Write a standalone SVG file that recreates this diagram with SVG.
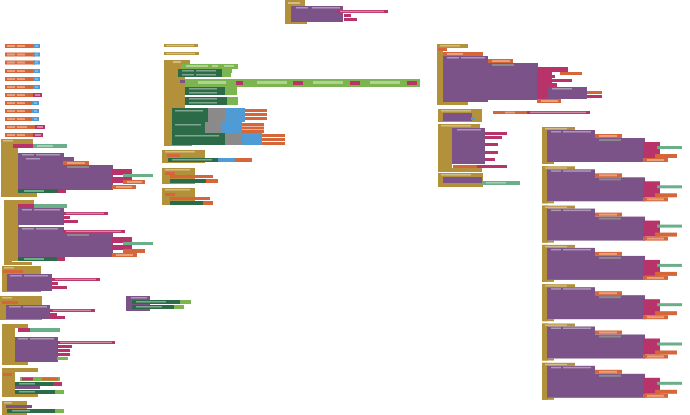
<svg xmlns="http://www.w3.org/2000/svg" width="690" height="415" viewBox="0 0 690 415">
<style>
.g{fill:#b3913a}.p{fill:#7b5388}.m{fill:#b8336a}.o{fill:#d5663a}.lo{fill:#e9a07a}.dg{fill:#2c6b48}.lg{fill:#7cb550}.mt{fill:#6aae8a}.b{fill:#4e9bd6}.gr{fill:#8a8a8a}.f{fill:#ffffff;opacity:.4}.lb{fill:#7fb6e3}
</style>
<rect width="690" height="415" fill="#ffffff"/>
<g id="top">
<rect class="g" x="285" y="0" width="20" height="6"/><rect class="g" x="285" y="0" width="7" height="24"/><rect class="g" x="285" y="20" width="22" height="4"/>
<rect class="f" x="288" y="2" width="12" height="2"/>
<rect class="p" x="291" y="6" width="52" height="16"/><rect class="p" x="291" y="6" width="52" height="3"/>
<rect class="f" x="296" y="7" width="12" height="1.5"/><rect class="f" x="312" y="7" width="28" height="1.5"/>
<rect class="m" x="337" y="10" width="51" height="3"/><rect class="f" x="340" y="10.8" width="44" height="1.4"/>
<rect class="m" x="344" y="14" width="7" height="3"/><rect class="m" x="344" y="18" width="13" height="3"/>
</g>
<g id="vars">
<g><rect class="o" x="5" y="44" width="30" height="4"/><rect class="lo" x="7" y="45" width="8" height="2"/><rect class="lo" x="17" y="45" width="8" height="2"/><rect class="b" x="33" y="44" width="7" height="4"/><rect class="lb" x="35" y="45" width="3" height="2"/></g>
<g><rect class="o" x="5" y="52.5" width="30" height="4"/><rect class="lo" x="7" y="53.5" width="8" height="2"/><rect class="lo" x="17" y="53.5" width="8" height="2"/><rect class="b" x="33" y="52.5" width="7" height="4"/><rect class="lb" x="35" y="53.5" width="3" height="2"/></g>
<g><rect class="o" x="5" y="60.5" width="30" height="4"/><rect class="lo" x="7" y="61.5" width="8" height="2"/><rect class="lo" x="17" y="61.5" width="8" height="2"/><rect class="b" x="33" y="60.5" width="7" height="4"/><rect class="lb" x="35" y="61.5" width="3" height="2"/></g>
<g><rect class="o" x="5" y="69" width="30" height="4"/><rect class="lo" x="7" y="70" width="8" height="2"/><rect class="lo" x="17" y="70" width="8" height="2"/><rect class="b" x="33" y="69" width="7" height="4"/><rect class="lb" x="35" y="70" width="3" height="2"/></g>
<g><rect class="o" x="5" y="77" width="30" height="4"/><rect class="lo" x="7" y="78" width="8" height="2"/><rect class="lo" x="17" y="78" width="8" height="2"/><rect class="b" x="33" y="77" width="7" height="4"/><rect class="lb" x="35" y="78" width="3" height="2"/></g>
<g><rect class="o" x="5" y="85" width="30" height="4"/><rect class="lo" x="7" y="86" width="8" height="2"/><rect class="lo" x="17" y="86" width="8" height="2"/><rect class="b" x="33" y="85" width="7" height="4"/><rect class="lb" x="35" y="86" width="3" height="2"/></g>
<g><rect class="o" x="5" y="93" width="30" height="4"/><rect class="lo" x="7" y="94" width="8" height="2"/><rect class="lo" x="17" y="94" width="8" height="2"/><rect class="m" x="33" y="93" width="9" height="4"/><rect class="f" x="35" y="94" width="5" height="2"/></g>
<g><rect class="o" x="5" y="101" width="28" height="4"/><rect class="lo" x="7" y="102" width="8" height="2"/><rect class="lo" x="17" y="102" width="8" height="2"/><rect class="b" x="32" y="101" width="7" height="4"/><rect class="lb" x="34" y="102" width="3" height="2"/></g>
<g><rect class="o" x="5" y="109" width="28" height="4"/><rect class="lo" x="7" y="110" width="8" height="2"/><rect class="lo" x="17" y="110" width="8" height="2"/><rect class="b" x="32" y="109" width="7" height="4"/><rect class="lb" x="34" y="110" width="3" height="2"/></g>
<g><rect class="o" x="5" y="117" width="28" height="4"/><rect class="lo" x="7" y="118" width="8" height="2"/><rect class="lo" x="17" y="118" width="8" height="2"/><rect class="b" x="32" y="117" width="7" height="4"/><rect class="lb" x="34" y="118" width="3" height="2"/></g>
<g><rect class="o" x="5" y="125" width="32" height="4"/><rect class="lo" x="7" y="126" width="8" height="2"/><rect class="lo" x="17" y="126" width="10" height="2"/><rect class="m" x="35" y="125" width="10" height="4"/><rect class="f" x="37" y="126" width="6" height="2"/></g>
<g><rect class="o" x="5" y="133" width="30" height="4"/><rect class="lo" x="7" y="134" width="8" height="2"/><rect class="lo" x="17" y="134" width="8" height="2"/><rect class="m" x="33" y="133" width="10" height="4"/><rect class="f" x="35" y="134" width="6" height="2"/></g>
</g>
<g id="stackA">
<rect class="g" x="1" y="139" width="32" height="5"/><rect class="g" x="1" y="139" width="8" height="58"/><rect class="g" x="8" y="142" width="10" height="52"/><rect class="g" x="1" y="193" width="36" height="4"/>
<rect class="f" x="3" y="140" width="10" height="1.5"/>
<rect class="m" x="13" y="144" width="20" height="4"/><rect class="mt" x="33" y="144" width="34" height="4"/><rect class="f" x="37" y="145" width="16" height="2"/>
<rect class="p" x="18" y="153" width="46" height="39"/><rect class="p" x="18" y="157" width="56" height="4"/><rect class="f" x="22" y="154" width="12" height="1.5"/><rect class="f" x="36" y="154" width="24" height="1.5"/><rect class="f" x="26" y="158" width="14" height="1.5"/>
<rect class="o" x="63" y="161" width="26" height="4"/><rect class="lo" x="67" y="162" width="18" height="2"/>
<rect class="p" x="63" y="165" width="50" height="25"/><rect class="gr" x="67" y="166" width="22" height="2"/>
<rect class="m" x="112" y="169" width="20" height="6"/><rect class="mt" x="123" y="174" width="30" height="3"/>
<rect class="m" x="112" y="177" width="20" height="6"/><rect class="o" x="123" y="180" width="22" height="4"/><rect class="lo" x="127" y="181" width="15" height="2"/>
<rect class="o" x="112" y="185" width="24" height="4"/><rect class="lo" x="116" y="186" width="16" height="2"/>
<rect class="dg" x="18" y="189" width="48" height="4"/><rect class="mt" x="24" y="190" width="20" height="2"/><rect class="m" x="58" y="189" width="8" height="4"/>
</g>
<g id="stackB">
<rect class="g" x="4" y="200" width="30" height="4"/><rect class="g" x="4" y="200" width="8" height="65"/><rect class="g" x="11" y="203" width="8" height="58"/><rect class="g" x="8" y="262" width="24" height="3"/>
<rect class="m" x="18" y="204" width="16" height="4"/><rect class="mt" x="34" y="204" width="33" height="4"/>
<rect class="p" x="18" y="208" width="46" height="17"/><rect class="f" x="22" y="209" width="10" height="1.5"/><rect class="f" x="34" y="209" width="26" height="1.5"/>
<rect class="m" x="63" y="212" width="45" height="3"/><rect class="f" x="66" y="212.7" width="38" height="1.4"/><rect class="m" x="63" y="216" width="7" height="3"/><rect class="m" x="63" y="220" width="15" height="3"/>
<rect class="p" x="18" y="227" width="46" height="30"/><rect class="f" x="22" y="228" width="12" height="1.5"/><rect class="f" x="36" y="228" width="22" height="1.5"/>
<rect class="m" x="63" y="230" width="62" height="3"/><rect class="f" x="66" y="230.7" width="55" height="1.4"/>
<rect class="p" x="63" y="233" width="50" height="24"/><rect class="gr" x="67" y="234" width="22" height="2"/>
<rect class="m" x="112" y="237" width="20" height="6"/><rect class="mt" x="123" y="242" width="30" height="3"/>
<rect class="m" x="112" y="245" width="20" height="5"/><rect class="o" x="123" y="249" width="22" height="4"/>
<rect class="o" x="112" y="253" width="25" height="4"/><rect class="lo" x="116" y="254" width="17" height="2"/>
<rect class="dg" x="18" y="257" width="47" height="4"/><rect class="mt" x="24" y="258" width="20" height="2"/><rect class="m" x="57" y="257" width="8" height="4"/>
</g>
<g id="stackC">
<rect class="g" x="2" y="266" width="39" height="26"/><rect class="f" x="4" y="267" width="10" height="1.5"/><rect class="o" x="3" y="270" width="20" height="3"/>
<rect class="p" x="7" y="274" width="45" height="17"/><rect class="f" x="10" y="275" width="12" height="1.5"/><rect class="f" x="24" y="275" width="24" height="1.5"/>
<rect class="m" x="52" y="278" width="48" height="3"/><rect class="f" x="55" y="278.7" width="41" height="1.4"/><rect class="m" x="52" y="282" width="6" height="3"/><rect class="m" x="52" y="286" width="15" height="3"/>
</g>
<g id="stackD">
<rect class="g" x="0" y="296" width="42" height="24"/><rect class="f" x="2" y="297" width="10" height="1.5"/><rect class="o" x="2" y="301" width="16" height="3"/>
<rect class="p" x="6" y="305" width="44" height="14"/><rect class="f" x="9" y="306" width="12" height="1.5"/><rect class="f" x="23" y="306" width="24" height="1.5"/>
<rect class="m" x="50" y="309" width="45" height="3"/><rect class="f" x="53" y="309.7" width="38" height="1.4"/><rect class="m" x="50" y="313" width="7" height="3"/><rect class="m" x="50" y="316" width="15" height="3"/>
</g>
<g id="stackE">
<rect class="g" x="2" y="324" width="26" height="4"/><rect class="g" x="2" y="324" width="13" height="41"/><rect class="g" x="2" y="362" width="26" height="3"/>
<rect class="m" x="18" y="328" width="12" height="4"/><rect class="mt" x="30" y="328" width="30" height="4"/>
<rect class="p" x="15" y="337" width="43" height="25"/><rect class="f" x="18" y="338" width="10" height="1.5"/><rect class="f" x="30" y="338" width="24" height="1.5"/>
<rect class="m" x="57" y="341" width="58" height="3"/><rect class="f" x="60" y="341.7" width="52" height="1.4"/><rect class="m" x="57" y="345" width="15" height="3"/><rect class="m" x="57" y="349" width="13" height="3"/><rect class="m" x="57" y="353" width="13" height="3"/><rect class="lg" x="57" y="357" width="11" height="3"/>
</g>
<g id="stackF">
<rect class="g" x="2" y="368" width="36" height="4"/><rect class="g" x="2" y="368" width="13" height="29"/><rect class="g" x="2" y="394" width="36" height="3"/>
<rect class="o" x="3" y="373" width="9" height="3"/>
<rect class="lg" x="20" y="377" width="40" height="4"/><rect class="m" x="22" y="377.5" width="11" height="3"/><rect class="o" x="42" y="377.5" width="16" height="3"/>
<rect class="dg" x="15" y="382" width="40" height="4"/><rect class="f" x="19" y="383" width="16" height="1.5"/><rect class="m" x="53" y="382" width="9" height="4"/>
<rect class="p" x="15" y="386" width="25" height="3"/>
<rect class="dg" x="15" y="390" width="42" height="4"/><rect class="f" x="19" y="391" width="16" height="1.5"/><rect class="lg" x="55" y="390" width="9" height="4"/>
</g>
<g id="stackG">
<rect class="g" x="2" y="401" width="25" height="14"/><rect class="f" x="4" y="402" width="8" height="1.5"/>
<rect class="p" x="6" y="405" width="26" height="3"/>
<rect class="dg" x="7" y="409" width="50" height="4"/><rect class="f" x="12" y="410" width="18" height="1.5"/><rect class="lg" x="55" y="409" width="9" height="4"/>
</g>
<g id="mid1"><rect class="g" x="164" y="44" width="34" height="3"/><rect class="f" x="166" y="44.8" width="28" height="1.4"/></g>
<g id="mid2"><rect class="g" x="164" y="52" width="35" height="3"/><rect class="f" x="166" y="52.8" width="29" height="1.4"/></g>
<g id="midBig">
<rect class="g" x="164" y="60" width="26" height="4"/><rect class="g" x="164" y="60" width="8" height="86"/><rect class="g" x="169" y="63" width="16" height="45"/><rect class="g" x="164" y="143" width="28" height="3"/>
<rect class="f" x="173" y="61" width="8" height="2"/>
<rect class="lg" x="181" y="64" width="57" height="5"/><rect class="f" x="186" y="65" width="22" height="2"/><rect class="f" x="212" y="65" width="6" height="2"/><rect class="f" x="224" y="65" width="10" height="2"/>
<rect class="dg" x="178" y="69" width="44" height="4"/><rect class="f" x="182" y="70" width="12" height="1.5"/><rect class="f" x="196" y="70" width="20" height="1.5"/><rect class="lg" x="222" y="69" width="10" height="4"/>
<rect class="dg" x="178" y="73" width="44" height="4"/><rect class="f" x="182" y="74" width="12" height="1.5"/><rect class="f" x="196" y="74" width="20" height="1.5"/><rect class="lg" x="222" y="73" width="9" height="4"/>
<rect class="lg" x="185" y="79" width="235" height="8"/><rect class="p" x="180" y="80" width="5" height="3"/>
<rect class="f" x="198" y="81" width="28" height="3"/><rect class="m" x="236" y="81" width="7" height="4"/><rect class="f" x="257" y="81" width="30" height="3"/><rect class="m" x="293" y="81" width="10" height="4"/>
<rect class="f" x="313" y="81" width="30" height="3"/><rect class="m" x="350" y="81" width="10" height="4"/><rect class="f" x="370" y="81" width="30" height="3"/><rect class="m" x="407" y="81" width="10" height="4"/>
<rect class="dg" x="185" y="87" width="40" height="4"/><rect class="f" x="189" y="88" width="28" height="1.5"/><rect class="lg" x="225" y="87" width="12" height="4"/>
<rect class="dg" x="185" y="91" width="40" height="4"/><rect class="f" x="189" y="92" width="28" height="1.5"/><rect class="lg" x="225" y="91" width="12" height="4"/>
<rect class="dg" x="185" y="97" width="42" height="4"/><rect class="f" x="189" y="98" width="28" height="1.5"/><rect class="lg" x="227" y="97" width="11" height="4"/>
<rect class="dg" x="185" y="101" width="42" height="4"/><rect class="f" x="189" y="102" width="28" height="1.5"/><rect class="lg" x="227" y="101" width="11" height="4"/>
<rect class="dg" x="172" y="108" width="36" height="14"/><rect class="f" x="175" y="110" width="28" height="1.5"/><rect class="gr" x="208" y="108" width="17" height="14"/><rect class="b" x="225" y="108" width="20" height="14"/>
<rect class="o" x="245" y="109" width="22" height="3"/><rect class="o" x="245" y="113" width="22" height="3"/><rect class="o" x="245" y="117" width="22" height="3"/>
<rect class="dg" x="172" y="122" width="33" height="11"/><rect class="f" x="175" y="124" width="26" height="1.5"/><rect class="gr" x="205" y="122" width="17" height="11"/><rect class="b" x="222" y="122" width="20" height="11"/>
<rect class="o" x="242" y="123" width="22" height="3"/><rect class="o" x="242" y="126.5" width="22" height="3"/><rect class="o" x="242" y="130" width="22" height="3"/>
<rect class="dg" x="172" y="133" width="53" height="12"/><rect class="f" x="175" y="135" width="44" height="1.5"/><rect class="gr" x="225" y="133" width="17" height="12"/><rect class="b" x="242" y="133" width="20" height="12"/>
<rect class="o" x="262" y="134" width="23" height="3"/><rect class="o" x="262" y="138" width="23" height="3"/><rect class="o" x="262" y="142" width="23" height="3"/>
</g>
<g id="mid3">
<rect class="g" x="162" y="150" width="43" height="13"/><rect class="f" x="165" y="151" width="30" height="1.5"/><rect class="o" x="167" y="154" width="13" height="3"/>
<rect class="dg" x="168" y="158" width="50" height="4"/><rect class="f" x="172" y="159" width="40" height="1.5"/><rect class="b" x="218" y="158" width="17" height="4"/><rect class="o" x="235" y="158" width="17" height="4"/>
</g>
<g id="mid4">
<rect class="g" x="162" y="168" width="33" height="16"/><rect class="f" x="165" y="169" width="25" height="1.5"/><rect class="o" x="165" y="172" width="10" height="3"/>
<rect class="o" x="170" y="175" width="43" height="3"/><rect class="dg" x="170" y="179" width="36" height="4"/><rect class="o" x="206" y="179" width="12" height="4"/>
</g>
<g id="mid5">
<rect class="g" x="162" y="188" width="33" height="17"/><rect class="f" x="165" y="189" width="25" height="1.5"/><rect class="o" x="165" y="193" width="10" height="3"/>
<rect class="o" x="170" y="197" width="40" height="3"/><rect class="dg" x="170" y="201" width="33" height="4"/><rect class="o" x="203" y="201" width="10" height="4"/>
</g>
<g id="proc">
<rect class="p" x="126" y="296" width="24" height="15"/><rect class="f" x="131" y="297" width="16" height="1.5"/>
<rect class="dg" x="132" y="300" width="48" height="4"/><rect class="f" x="136" y="301" width="30" height="1.5"/><rect class="lg" x="180" y="300" width="11" height="4"/>
<rect class="dg" x="132" y="305" width="42" height="4"/><rect class="f" x="136" y="306" width="26" height="1.5"/><rect class="lg" x="174" y="305" width="10" height="4"/>
</g>
<g id="right1">
<rect class="g" x="437" y="44" width="31" height="4"/><rect class="g" x="437" y="44" width="6" height="61"/><rect class="g" x="437" y="102" width="31" height="3"/><rect class="f" x="440" y="45" width="20" height="1.5"/>
<rect class="o" x="438" y="48" width="9" height="3"/>
<rect class="o" x="443" y="52" width="40" height="4"/><rect class="lo" x="447" y="53" width="16" height="2"/>
<rect class="p" x="443" y="56" width="45" height="46"/><rect class="f" x="447" y="57" width="12" height="1.5"/><rect class="f" x="461" y="57" width="24" height="1.5"/>
<rect class="o" x="488" y="59" width="25" height="4"/><rect class="lo" x="492" y="60" width="18" height="2"/>
<rect class="p" x="488" y="63" width="50" height="37"/><rect class="gr" x="492" y="64" width="22" height="2"/>
<rect class="m" x="537" y="67" width="15" height="36"/><rect class="m" x="550" y="67" width="18" height="5"/><rect class="o" x="560" y="72" width="22" height="3"/>
<rect class="m" x="550" y="75" width="5" height="3"/><rect class="m" x="550" y="79" width="22" height="3"/><rect class="m" x="550" y="83" width="7" height="4"/>
<rect class="p" x="548" y="87" width="39" height="12"/><rect class="f" x="552" y="88" width="20" height="1.5"/>
<rect class="o" x="587" y="91" width="15" height="3"/><rect class="m" x="587" y="95" width="15" height="3"/>
<rect class="o" x="537" y="99" width="24" height="4"/><rect class="lo" x="541" y="100" width="17" height="2"/>
</g>
<g id="right2">
<rect class="g" x="438" y="109" width="44" height="13"/><rect class="f" x="441" y="110" width="30" height="1.5"/>
<rect class="p" x="443" y="113" width="29" height="8"/><rect class="b" x="471" y="117" width="4" height="3"/>
</g>
<g id="right2b"><rect class="o" x="493" y="111" width="34" height="3"/><rect class="lo" x="505" y="111.6" width="10" height="1.8"/><rect class="m" x="527" y="111" width="63" height="3"/><rect class="f" x="530" y="111.7" width="56" height="1.4"/></g>
<g id="right3">
<rect class="g" x="438" y="124" width="42" height="4"/><rect class="g" x="438" y="124" width="14" height="48"/><rect class="g" x="438" y="168" width="44" height="4"/><rect class="f" x="441" y="125" width="30" height="1.5"/>
<rect class="p" x="452" y="128" width="33" height="36"/><rect class="f" x="457" y="129" width="24" height="1.5"/>
<rect class="m" x="485" y="132" width="22" height="3"/><rect class="m" x="485" y="136" width="17" height="3"/><rect class="m" x="485" y="143" width="13" height="3"/><rect class="m" x="485" y="151" width="13" height="3"/><rect class="m" x="485" y="158" width="10" height="3"/>
<rect class="o" x="453" y="165" width="24" height="3"/><rect class="m" x="477" y="165" width="30" height="3"/>
</g>
<g id="right4">
<rect class="g" x="438" y="173" width="45" height="14"/><rect class="f" x="441" y="174" width="30" height="1.5"/>
<rect class="p" x="443" y="177" width="39" height="6"/><rect class="mt" x="482" y="181" width="38" height="4"/><rect class="f" x="486" y="182" width="20" height="1.5"/>
</g>
<g id="rc1" transform="translate(0,0)">
<rect class="g" x="542" y="127" width="33" height="3"/><rect class="g" x="542" y="127" width="6" height="37"/><rect class="g" x="542" y="162" width="12" height="2"/><rect class="f" x="545" y="128" width="22" height="1.4"/>
<rect class="p" x="547" y="130" width="48" height="32"/><rect class="f" x="551" y="131" width="10" height="1.5"/><rect class="f" x="563" y="131" width="28" height="1.5"/>
<rect class="o" x="595" y="134" width="27" height="4"/><rect class="lo" x="599" y="135" width="18" height="2"/>
<rect class="p" x="595" y="138" width="50" height="24"/><rect class="gr" x="599" y="139" width="22" height="2"/>
<rect class="m" x="643" y="142" width="17" height="16"/><rect class="mt" x="657" y="146" width="25" height="3"/><rect class="o" x="655" y="154" width="22" height="4"/>
<rect class="o" x="643" y="158" width="25" height="4"/><rect class="lo" x="647" y="159" width="17" height="2"/>
</g>
<g id="rc2" transform="translate(0,39.3)">
<rect class="g" x="542" y="127" width="33" height="3"/><rect class="g" x="542" y="127" width="6" height="37"/><rect class="g" x="542" y="162" width="12" height="2"/><rect class="f" x="545" y="128" width="22" height="1.4"/>
<rect class="p" x="547" y="130" width="48" height="32"/><rect class="f" x="551" y="131" width="10" height="1.5"/><rect class="f" x="563" y="131" width="28" height="1.5"/>
<rect class="o" x="595" y="134" width="27" height="4"/><rect class="lo" x="599" y="135" width="18" height="2"/>
<rect class="p" x="595" y="138" width="50" height="24"/><rect class="gr" x="599" y="139" width="22" height="2"/>
<rect class="m" x="643" y="142" width="17" height="16"/><rect class="mt" x="657" y="146" width="25" height="3"/><rect class="o" x="655" y="154" width="22" height="4"/>
<rect class="o" x="643" y="158" width="25" height="4"/><rect class="lo" x="647" y="159" width="17" height="2"/>
</g>
<g id="rc3" transform="translate(0,78.6)">
<rect class="g" x="542" y="127" width="33" height="3"/><rect class="g" x="542" y="127" width="6" height="37"/><rect class="g" x="542" y="162" width="12" height="2"/><rect class="f" x="545" y="128" width="22" height="1.4"/>
<rect class="p" x="547" y="130" width="48" height="32"/><rect class="f" x="551" y="131" width="10" height="1.5"/><rect class="f" x="563" y="131" width="28" height="1.5"/>
<rect class="o" x="595" y="134" width="27" height="4"/><rect class="lo" x="599" y="135" width="18" height="2"/>
<rect class="p" x="595" y="138" width="50" height="24"/><rect class="gr" x="599" y="139" width="22" height="2"/>
<rect class="m" x="643" y="142" width="17" height="16"/><rect class="mt" x="657" y="146" width="25" height="3"/><rect class="o" x="655" y="154" width="22" height="4"/>
<rect class="o" x="643" y="158" width="25" height="4"/><rect class="lo" x="647" y="159" width="17" height="2"/>
</g>
<g id="rc4" transform="translate(0,117.9)">
<rect class="g" x="542" y="127" width="33" height="3"/><rect class="g" x="542" y="127" width="6" height="37"/><rect class="g" x="542" y="162" width="12" height="2"/><rect class="f" x="545" y="128" width="22" height="1.4"/>
<rect class="p" x="547" y="130" width="48" height="32"/><rect class="f" x="551" y="131" width="10" height="1.5"/><rect class="f" x="563" y="131" width="28" height="1.5"/>
<rect class="o" x="595" y="134" width="27" height="4"/><rect class="lo" x="599" y="135" width="18" height="2"/>
<rect class="p" x="595" y="138" width="50" height="24"/><rect class="gr" x="599" y="139" width="22" height="2"/>
<rect class="m" x="643" y="142" width="17" height="16"/><rect class="mt" x="657" y="146" width="25" height="3"/><rect class="o" x="655" y="154" width="22" height="4"/>
<rect class="o" x="643" y="158" width="25" height="4"/><rect class="lo" x="647" y="159" width="17" height="2"/>
</g>
<g id="rc5" transform="translate(0,157.2)">
<rect class="g" x="542" y="127" width="33" height="3"/><rect class="g" x="542" y="127" width="6" height="37"/><rect class="g" x="542" y="162" width="12" height="2"/><rect class="f" x="545" y="128" width="22" height="1.4"/>
<rect class="p" x="547" y="130" width="48" height="32"/><rect class="f" x="551" y="131" width="10" height="1.5"/><rect class="f" x="563" y="131" width="28" height="1.5"/>
<rect class="o" x="595" y="134" width="27" height="4"/><rect class="lo" x="599" y="135" width="18" height="2"/>
<rect class="p" x="595" y="138" width="50" height="24"/><rect class="gr" x="599" y="139" width="22" height="2"/>
<rect class="m" x="643" y="142" width="17" height="16"/><rect class="mt" x="657" y="146" width="25" height="3"/><rect class="o" x="655" y="154" width="22" height="4"/>
<rect class="o" x="643" y="158" width="25" height="4"/><rect class="lo" x="647" y="159" width="17" height="2"/>
</g>
<g id="rc6" transform="translate(0,196.5)">
<rect class="g" x="542" y="127" width="33" height="3"/><rect class="g" x="542" y="127" width="6" height="37"/><rect class="g" x="542" y="162" width="12" height="2"/><rect class="f" x="545" y="128" width="22" height="1.4"/>
<rect class="p" x="547" y="130" width="48" height="32"/><rect class="f" x="551" y="131" width="10" height="1.5"/><rect class="f" x="563" y="131" width="28" height="1.5"/>
<rect class="o" x="595" y="134" width="27" height="4"/><rect class="lo" x="599" y="135" width="18" height="2"/>
<rect class="p" x="595" y="138" width="50" height="24"/><rect class="gr" x="599" y="139" width="22" height="2"/>
<rect class="m" x="643" y="142" width="17" height="16"/><rect class="mt" x="657" y="146" width="25" height="3"/><rect class="o" x="655" y="154" width="22" height="4"/>
<rect class="o" x="643" y="158" width="25" height="4"/><rect class="lo" x="647" y="159" width="17" height="2"/>
</g>
<g id="rc7" transform="translate(0,235.8)">
<rect class="g" x="542" y="127" width="33" height="3"/><rect class="g" x="542" y="127" width="6" height="37"/><rect class="g" x="542" y="162" width="12" height="2"/><rect class="f" x="545" y="128" width="22" height="1.4"/>
<rect class="p" x="547" y="130" width="48" height="32"/><rect class="f" x="551" y="131" width="10" height="1.5"/><rect class="f" x="563" y="131" width="28" height="1.5"/>
<rect class="o" x="595" y="134" width="27" height="4"/><rect class="lo" x="599" y="135" width="18" height="2"/>
<rect class="p" x="595" y="138" width="50" height="24"/><rect class="gr" x="599" y="139" width="22" height="2"/>
<rect class="m" x="643" y="142" width="17" height="16"/><rect class="mt" x="657" y="146" width="25" height="3"/><rect class="o" x="655" y="154" width="22" height="4"/>
<rect class="o" x="643" y="158" width="25" height="4"/><rect class="lo" x="647" y="159" width="17" height="2"/>
</g>
<g id="connectors"/>
</svg>
